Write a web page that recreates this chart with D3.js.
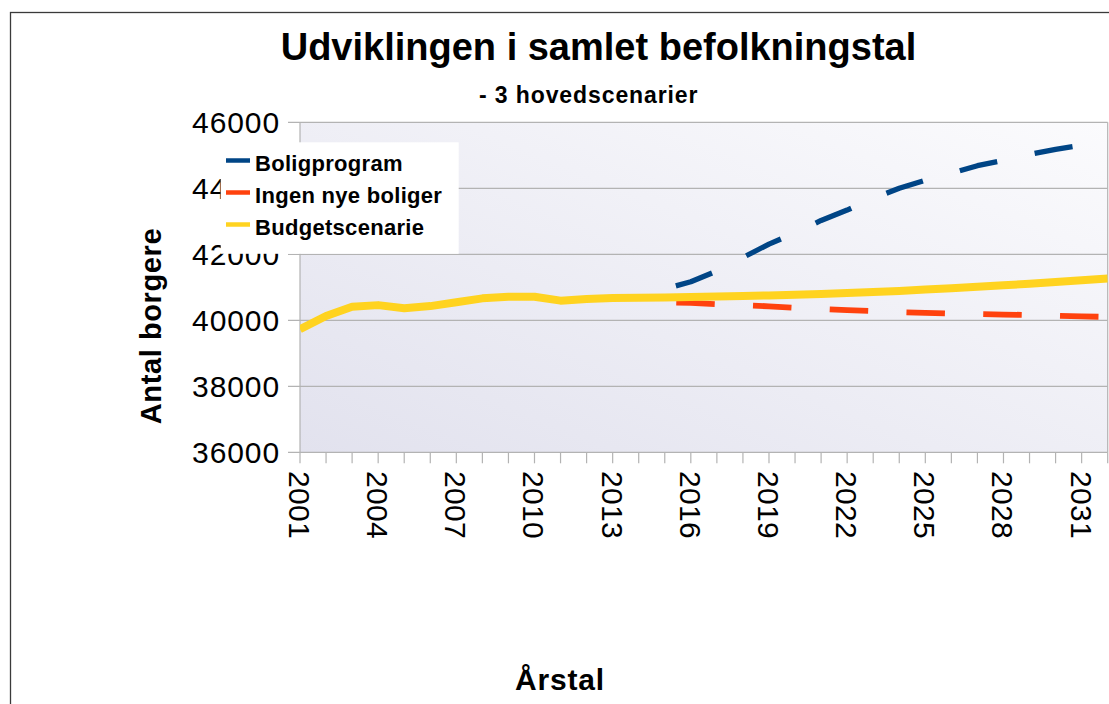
<!DOCTYPE html>
<html>
<head>
<meta charset="utf-8">
<script src="https://cdn.jsdelivr.net/npm/d3@7"></script>
<style>
  body { margin: 0; background: #fff; }
  svg { display: block; font-family: "Liberation Sans", Arial, sans-serif; }
</style>
</head>
<body>
<div id="chart"></div>
<script>
// år på x-aksen
const years = [2001, 2002, 2003, 2004, 2005, 2006, 2007, 2008, 2009, 2010,
               2011, 2012, 2013, 2014, 2015, 2016, 2017, 2018, 2019, 2020,
               2021, 2022, 2023, 2024, 2025, 2026, 2027, 2028, 2029, 2030,
               2031, 2032];
const tickYears = [2001, 2004, 2007, 2010, 2013, 2016, 2019, 2022, 2025, 2028, 2031];
const yTicks = [36000, 38000, 40000, 42000, 44000, 46000];

// Budgetscenarie: hele perioden
const budget = [39730, 40130, 40410, 40460, 40365, 40430, 40545, 40665, 40715, 40715,
                40595, 40645, 40675, 40680, 40690, 40705, 40720, 40735, 40755, 40775,
                40800, 40825, 40855, 40890, 40930, 40970, 41015, 41060, 41110, 41160,
                41215, 41270];
// de to prognoser starter i 2015
const progStart = 2015;
const boligprogram = [40950, 41170, 41495, 41905, 42310, 42650, 43025, 43340, 43695,
                      44000, 44245, 44460, 44685, 44845, 45025, 45180, 45305, 45420];
const ingenNye = [40545, 40525, 40485, 40455, 40425, 40380, 40345, 40310, 40280,
                  40250, 40225, 40205, 40190, 40175, 40160, 40140, 40120, 40100];

const seriesNames = ["Boligprogram", "Ingen nye boliger", "Budgetscenarie"];
const colors = ["#004586", "#ff420e", "#ffd320"];

const W = 1109, H = 704;
const plot = { left: 300, right: 1107.7, top: 122.3, bottom: 452.3 };

const svg = d3.select("#chart").append("svg")
    .attr("width", W).attr("height", H);

// ydre ramme
svg.append("rect")
    .attr("x", 10.5).attr("y", 12.5)
    .attr("width", 1200).attr("height", 800)
    .attr("fill", "#fff")
    .attr("stroke", "#3a3a3a").attr("stroke-width", 1.3);

const x = d3.scaleLinear().domain([2001, 2032]).range([plot.left, plot.right]);
const y = d3.scaleLinear().domain([36000, 46000]).range([plot.bottom, plot.top]);

// baggrund med gradient
const defs = svg.append("defs");
const grad = defs.append("linearGradient").attr("id", "bg")
    .attr("x1", 0).attr("y1", 1).attr("x2", 1).attr("y2", 0);
grad.append("stop").attr("offset", 0).attr("stop-color", "#e2e2ee");
grad.append("stop").attr("offset", 1).attr("stop-color", "#fbfbfd");

defs.append("clipPath").attr("id", "clip").append("rect")
    .attr("x", plot.left).attr("y", plot.top - 10)
    .attr("width", plot.right - plot.left).attr("height", plot.bottom - plot.top + 10);

svg.append("rect")
    .attr("x", plot.left).attr("y", plot.top)
    .attr("width", plot.right - plot.left).attr("height", plot.bottom - plot.top)
    .attr("fill", "url(#bg)");

// gitterlinjer + tick
const gridColor = "#b3b3b3";
svg.append("g").selectAll("line").data(yTicks).join("line")
    .attr("x1", plot.left - 12).attr("x2", plot.right)
    .attr("y1", d => y(d)).attr("y2", d => y(d))
    .attr("stroke", gridColor).attr("stroke-width", 1.2);

svg.append("line")
    .attr("x1", plot.left).attr("x2", plot.left)
    .attr("y1", plot.top).attr("y2", plot.bottom)
    .attr("stroke", gridColor).attr("stroke-width", 1.2);
svg.append("line")
    .attr("x1", plot.right).attr("x2", plot.right)
    .attr("y1", plot.top).attr("y2", plot.bottom)
    .attr("stroke", gridColor).attr("stroke-width", 1.2);

// x-tick hvert år
svg.append("g").selectAll("line").data(years).join("line")
    .attr("x1", d => x(d)).attr("x2", d => x(d))
    .attr("y1", plot.bottom).attr("y2", plot.bottom + 11)
    .attr("stroke", gridColor).attr("stroke-width", 1.2);

// y-labels
svg.append("g").selectAll("text").data(yTicks).join("text")
    .attr("x", 280).attr("y", d => y(d) + 11)
    .attr("text-anchor", "end")
    .attr("font-size", 30).attr("letter-spacing", 0.9)
    .attr("fill", "#000")
    .text(d => d);

// x-labels, roteret
svg.append("g").selectAll("text").data(tickYears).join("text")
    .attr("transform", d => `translate(${x(d) - 11},471) rotate(90)`)
    .attr("font-size", 30).attr("letter-spacing", 0.3)
    .attr("fill", "#000")
    .text(d => d);

// linjer
const line = d3.line()
    .defined(d => d.v != null)
    .x(d => x(d.year)).y(d => y(d.v));

const progData = vals => vals.map((v, i) => ({ year: progStart + i, v }));
const budgetData = budget.map((v, i) => ({ year: years[i], v }));

const lines = svg.append("g").attr("clip-path", "url(#clip)");
lines.append("path").datum(progData(boligprogram))
    .attr("d", line).attr("fill", "none")
    .attr("stroke", colors[0]).attr("stroke-width", 5.3)
    .attr("stroke-dasharray", "38.5,38.3").attr("stroke-dashoffset", 65.3)
    .attr("stroke-linejoin", "round");
lines.append("path").datum(progData(ingenNye))
    .attr("d", line).attr("fill", "none")
    .attr("stroke", colors[1]).attr("stroke-width", 5.8)
    .attr("stroke-dasharray", "38.5,38.3").attr("stroke-dashoffset", 65.3)
    .attr("stroke-linejoin", "round");
lines.append("path").datum(budgetData)
    .attr("d", line).attr("fill", "none")
    .attr("stroke", colors[2]).attr("stroke-width", 8)
    .attr("stroke-linejoin", "round");

// legend (dækker delvist y-labels som i originalen)
const leg = svg.append("g");
leg.append("rect")
    .attr("x", 220.7).attr("y", 142.3)
    .attr("width", 238).attr("height", 111.5)
    .attr("fill", "#fff");
seriesNames.forEach((name, i) => {
    const by = 171 + i * 32;
    leg.append("line")
        .attr("x1", 226).attr("x2", 250)
        .attr("y1", by - 10.5).attr("y2", by - 10.5)
        .attr("stroke", colors[i]).attr("stroke-width", 4.5);
    leg.append("text")
        .attr("x", 255).attr("y", by)
        .attr("font-size", 22).attr("font-weight", "bold")
        .attr("letter-spacing", 0.3)
        .text(name);
});

// titler
svg.append("text")
    .attr("x", 598.5).attr("y", 60)
    .attr("text-anchor", "middle")
    .attr("font-size", 38).attr("font-weight", "bold")
    .text("Udviklingen i samlet befolkningstal");
svg.append("text")
    .attr("x", 588.7).attr("y", 103)
    .attr("text-anchor", "middle")
    .attr("font-size", 23).attr("font-weight", "bold")
    .attr("letter-spacing", 0.9)
    .text("- 3 hovedscenarier");
svg.append("text")
    .attr("transform", "translate(161,326) rotate(-90)")
    .attr("text-anchor", "middle")
    .attr("font-size", 29).attr("font-weight", "bold")
    .attr("letter-spacing", 0.6)
    .text("Antal borgere");
svg.append("text")
    .attr("x", 560).attr("y", 690)
    .attr("text-anchor", "middle")
    .attr("font-size", 30).attr("font-weight", "bold")
    .attr("letter-spacing", 0.8)
    .text("Årstal");
</script>
</body>
</html>
